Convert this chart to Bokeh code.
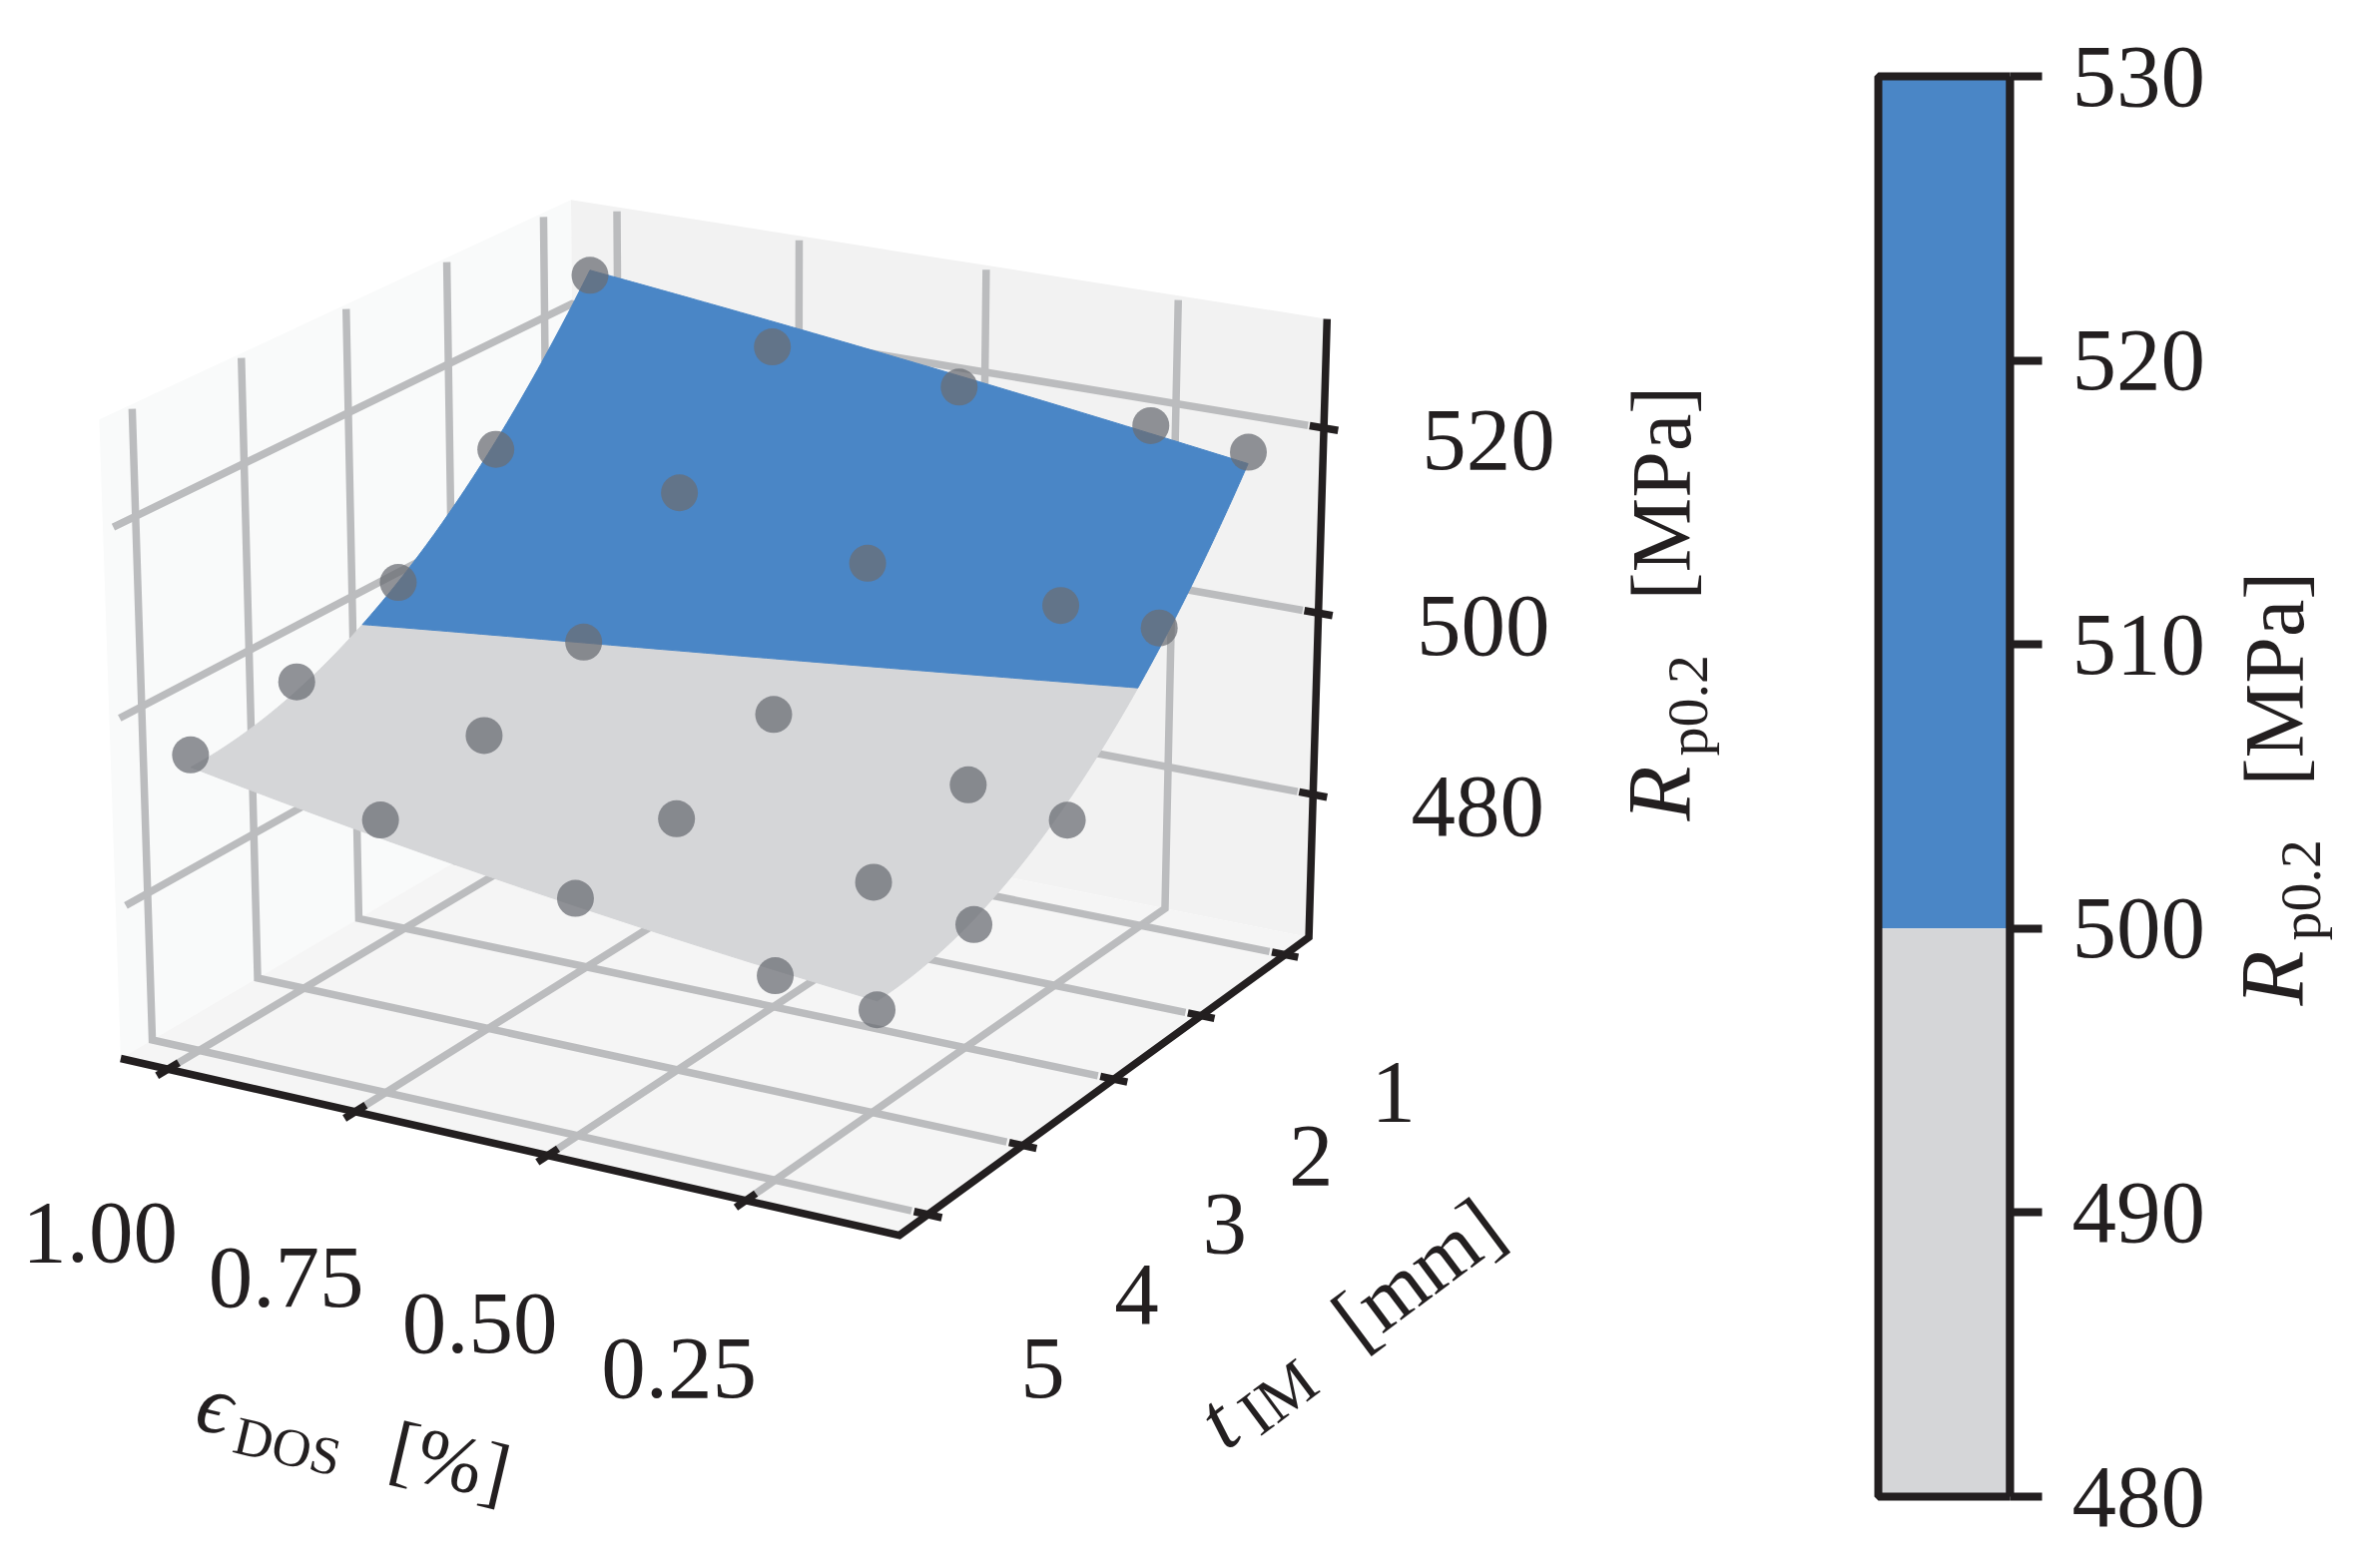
import numpy as np
from bokeh.plotting import figure
from bokeh.layouts import row
from bokeh.models import LinearAxis, FixedTicker
from bokeh.embed import file_html
from bokeh.resources import INLINE

# ---- data ----
eps_values = [1.0, 0.75, 0.5, 0.25, 0.125]
t_values = [1, 2, 3, 4, 5]
# measured points: one row per eps value, columns follow t_values
dots_eps_100 = [525.5, 511.5, 502.5, 497.6, 495.9]
dots_eps_075 = [520.9, 510.3, 499.8, 495.8, 493.1]
dots_eps_050 = [519.9, 506.3, 495.9, 491.0, 489.1]
dots_eps_025 = [519.2, 505.5, 492.4, 488.5, 485.4]
dots_eps_0125 = [518.1, 505.0, 490.7, 486.2, 484.1]
# response surface
surf_eps_100 = [526.2, 512.0, 502.8, 497.0, 494.4]
surf_eps_075 = [523.9, 509.9, 500.2, 493.8, 491.2]
surf_eps_050 = [521.1, 507.6, 497.7, 491.2, 488.3]
surf_eps_025 = [518.2, 504.6, 494.6, 488.6, 485.9]
surf_eps_0125 = [517.2, 502.2, 492.3, 487.2, 484.8]
eps_ticks = [1.0, 0.75, 0.5, 0.25]
eps_tick_labels = ["1.00", "0.75", "0.50", "0.25"]
t_ticks = [1, 2, 3, 4, 5]
t_tick_labels = ["1", "2", "3", "4", "5"]
z_ticks = [480, 500, 520]
z_tick_labels = ["480", "500", "520"]
threshold = 500
cbar_min, cbar_max = 480, 530
cbar_ticks = [480, 490, 500, 510, 520, 530]

# ---- styles ----
BLUE = "#4a86c6"
GREY = "#d5d6d8"
INK = "#231f20"
GRID = "#bbbcbe"
SERIF = "Liberation Serif"
FS = "89px"

# ---- 3-D box and its camera ----
elo, ehi = 0.061, 1.064
tlo, thi = 0.708, 5.292
zlo, zhi = 464.0, 531.6
inner = 0.02
elo_i = elo + inner * (ehi - elo)
thi_i = thi - inner * (thi - tlo)
zhi_i = zhi - 0.007 * (zhi - zlo)

calibration = [
    ((ehi, thi, zlo), (119, 1056)), ((elo, thi, zlo), (901, 1240)),
    ((elo, tlo, zlo), (1311, 935)), ((ehi, tlo, zlo), (577, 798)),
    ((ehi, thi, zhi), (99, 421)), ((elo, tlo, zhi), (1327.6, 321)),
    ((ehi, tlo, zhi), (571.6, 197)), ((1.0, thi, zlo), (169, 1069)),
    ((0.25, thi, zlo), (746, 1204)), ((elo, tlo, 520), (1327, 429)),
    ((elo, tlo, 480), (1314, 793)),
]

def _n(e, t, z):
    return (e - 0.5) / 0.5, (t - 3) / 2.5, (z - 500) / 35

_rows = []
for X, (u, v) in calibration:
    x, y, z = _n(*X)
    _rows.append([x, y, z, 1, 0, 0, 0, 0, -u * x, -u * y, -u * z, -u])
    _rows.append([0, 0, 0, 0, x, y, z, 1, -v * x, -v * y, -v * z, -v])
_P = np.linalg.svd(np.array(_rows, float))[2][-1].reshape(3, 4)

def proj(e, t, z):
    e, t, z = np.broadcast_arrays(np.asarray(e, float), np.asarray(t, float), np.asarray(z, float))
    x, y, w = _n(e, t, z)
    h = _P @ np.stack([x, y, w, np.ones_like(x)])
    return h[0] / h[2], h[1] / h[2]

# ---- smooth surface through the read grid ----
surf = np.array([surf_eps_100, surf_eps_075, surf_eps_050, surf_eps_025, surf_eps_0125])
def basis(e, t):
    e, t = np.broadcast_arrays(np.asarray(e, float), np.asarray(t, float))
    return np.stack([np.ones_like(e), e, t, e * t, e * e, t * t, e * e * t, e * t * t, e * e * t * t], -1)
_E, _T = np.meshgrid(eps_values, t_values, indexing="ij")
_c = np.linalg.lstsq(basis(_E.ravel(), _T.ravel()), surf.ravel(), rcond=None)[0]
def zs(e, t):
    return basis(e, t) @ _c

fine_e = np.linspace(min(eps_values), max(eps_values), 90)   # ascending
fine_t = np.linspace(min(t_values), max(t_values), 200)
t_cross = np.array([np.interp(-threshold, -zs(e, fine_t), fine_t) for e in fine_e])
t1, t5 = t_values[0], t_values[-1]

def polygon(e, t):
    return proj(e, t, zs(e, t))

e_min, e_max = fine_e[0], fine_e[-1]
be = np.concatenate([fine_e[::-1], np.full(60, e_min), fine_e, np.full(60, e_max)])
bt = np.concatenate([np.full_like(fine_e, t1), np.linspace(t1, t_cross[0], 60), t_cross,
                     np.linspace(t_cross[-1], t1, 60)])
bu, bv = polygon(be, bt)
ge = np.concatenate([fine_e[::-1], np.full(60, e_min), fine_e, np.full(60, e_max)])
gt = np.concatenate([t_cross[::-1], np.linspace(t_cross[0], t5, 60), np.full_like(fine_e, t5),
                     np.linspace(t5, t_cross[-1], 60)])
gu, gv = polygon(ge, gt)

# ---- left figure: pixel-sized range so the projection lands on the page ----
W1, H = 1860, 1555
p = figure(width=W1, height=H, x_range=(0, W1), y_range=(H, 0), output_backend="svg",
           toolbar_location=None, min_border=0, outline_line_color=None)
p.axis.visible = False
p.grid.visible = False
p.background_fill_color = "white"

def pane(corners, color):
    u, v = proj(*np.array(corners, float).T)
    p.patch(u, v, fill_color=color, line_color=None)

pane([(ehi, thi, zlo), (ehi, tlo, zlo), (ehi, tlo, zhi), (ehi, thi, zhi)], "#f9fafa")
pane([(ehi, tlo, zlo), (elo, tlo, zlo), (elo, tlo, zhi), (ehi, tlo, zhi)], "#f2f2f2")
pane([(ehi, thi, zlo), (elo, thi, zlo), (elo, tlo, zlo), (ehi, tlo, zlo)], "#f5f5f5")

def gridline(pts):
    u, v = proj(*np.array(pts, float).T)
    p.line(u, v, line_color=GRID, line_width=7.5, line_join="miter")

for e in eps_ticks:
    gridline([(e, thi_i, zlo), (e, tlo, zlo), (e, tlo, zhi_i)])
for t in t_ticks:
    gridline([(elo_i, t, zlo), (ehi, t, zlo), (ehi, t, zhi_i)])
for z in z_ticks:
    gridline([(elo_i, tlo, z), (ehi, tlo, z), (ehi, thi_i, z)])

p.patch(gu, gv, fill_color=GREY, line_color=GREY, line_width=1)
p.patch(bu, bv, fill_color=BLUE, line_color=BLUE, line_width=1)

dots = np.array([dots_eps_100, dots_eps_075, dots_eps_050, dots_eps_025, dots_eps_0125])
du, dv = proj(_E.ravel(), _T.ravel(), dots.ravel())
p.scatter(du, dv, size=37, marker="circle", fill_color="#6b6d74", fill_alpha=0.74, line_color=None)

# axis lines and ticks
AXW = 7.5
au, av = proj([ehi, elo, elo, elo], [thi, thi, tlo, tlo], [zlo, zlo, zlo, zhi])
p.line(au, av, line_color=INK, line_width=AXW, line_join="miter")
for e in eps_ticks:
    u, v = proj([e, e], [thi - 0.1, thi + 0.1], [zlo, zlo])
    p.line(u, v, line_color=INK, line_width=AXW)
for t in t_ticks:
    u, v = proj([elo + 0.017, elo - 0.017], [t, t], [zlo, zlo])
    p.line(u, v, line_color=INK, line_width=AXW)
for z in z_ticks:
    u, v = proj([elo + 0.018, elo - 0.018], [tlo, tlo], [z, z])
    p.line(u, v, line_color=INK, line_width=AXW)

BASE_SHIFT = 0.4  # the svg text sits this many ems under its anchor
def put(fig, x, y, s, size=FS, angle=0.0, style="normal", align="left"):
    em = float(size[:-2]) * BASE_SHIFT
    th = np.radians(angle)
    fig.text(x=[x - em * np.sin(th)], y=[y - em * np.cos(th)], text=[s], angle=[angle], angle_units="deg",
             text_font={"value": SERIF}, text_font_size={"value": size}, text_font_style=style,
             text_color=INK, text_align=align, text_baseline="alphabetic")
def text(*a, **k):
    put(p, *a, **k)

# tick labels follow their tick on the page
u, v = proj(eps_ticks, thi, zlo)
for a, b, s, dx, dy in zip(u, v, eps_tick_labels, [-68, -69, -68, -67], [199, 202, 203.5, 203.5]):
    text(a + dx, b + dy, s, align="center")
u, v = proj(elo, t_ticks, zlo)
for a, b, s, dx, dy in zip(u, v, t_tick_labels, [108.5, 110, 111, 114, 115], [173, 176, 180, 185, 190]):
    text(a + dx, b + dy, s, align="center")
u, v = proj(elo, tlo, z_ticks)
for a, b, s in zip(u, v, z_tick_labels):
    text(a + 165, b + 48, s, align="center")

# axis titles
text(1698, 822, "R", "90px", 90, "italic")
text(1713, 757, "p0.2", "58px", 90)
text(1698, 601, "[MPa]", "84px", 90)

a = 36.8; ca, sa = np.cos(np.radians(a)), np.sin(np.radians(a))
def along(s, off=0.0, x0=1230, y0=1458):
    return x0 + s * ca + off * sa, y0 - s * sa + off * ca
x, y = along(0); text(x, y, "t", "85px", a, "italic")
x, y = along(36, 8); text(x, y, "IM", "64px", a)
x, y = along(168); text(x, y, "[mm]", "84px", a)

b = 13.2; cb, sb = np.cos(np.radians(b)), np.sin(np.radians(b))
def along2(s, off=0.0, x0=191, y0=1435):
    return x0 + s * cb - off * sb, y0 + s * sb + off * cb
x, y = along2(0); text(x, y, "\u03f5", "85px", -b, "italic")
x, y = along2(43, 13); text(x, y, "DOS", "54px", -b)
x, y = along2(199); text(x, y, "[%]", "80px", -b)

# ---- colour bar with a real value axis; the frame runs the full height, the axis shows only the ticks ----
bar_left, bar_right = 1881, 2013
bar_top, bar_bottom = 76, 1499
per_px = (cbar_max - cbar_min) / (bar_bottom - bar_top)
W2, W3 = 370, 122
right_border = W1 + W2 - bar_right
c = figure(width=W2, height=H,
           x_range=((W1 - bar_left) / (bar_right - bar_left), 1),
           y_range=(cbar_min - (H - bar_bottom) * per_px, cbar_max + bar_top * per_px),
           output_backend="svg", toolbar_location=None, min_border_left=0, min_border_top=0,
           min_border_bottom=0, min_border_right=right_border, outline_line_color=None)
c.axis.visible = False
c.grid.visible = False
c.quad(left=0, right=1, bottom=threshold, top=cbar_max, fill_color=BLUE, line_color=None)
c.quad(left=0, right=1, bottom=cbar_min, top=threshold, fill_color=GREY, line_color=None)
c.quad(left=0, right=1, bottom=cbar_min, top=cbar_max, fill_color=None, line_color=INK, line_width=8)
ax = LinearAxis(ticker=FixedTicker(ticks=cbar_ticks), bounds=(cbar_min, cbar_max), major_tick_in=0, major_tick_out=32,
                minor_tick_out=0, minor_tick_in=0, major_tick_line_width=8, major_tick_line_color=INK,
                axis_line_color=INK, axis_line_width=8,
                major_label_text_font=SERIF, major_label_text_font_size=FS, major_label_text_color=INK,
                major_label_standoff=30)
c.add_layout(ax, "right")

# ---- strip that holds the colour bar's title ----
d = figure(width=W3, height=H, x_range=(W1 + W2, W1 + W2 + W3), y_range=(H, 0), output_backend="svg",
           toolbar_location=None, min_border=0, outline_line_color=None)
d.axis.visible = False
d.grid.visible = False
put(d, 2312, 1007, "R", "90px", 90, "italic")
put(d, 2327, 942, "p0.2", "58px", 90)
put(d, 2312, 787, "[MPa]", "84px", 90)

open("out.html", "w").write(file_html(row(p, c, d, spacing=0), INLINE))
